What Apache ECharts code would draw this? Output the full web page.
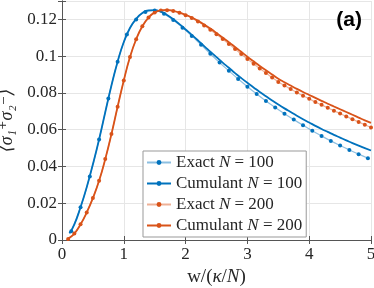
<!DOCTYPE html>
<html><head><meta charset="utf-8">
<script src="https://cdn.jsdelivr.net/npm/echarts@6/dist/echarts.min.js"></script>
<style>html,body{margin:0;padding:0;background:#fff}#c{width:374px;height:288px}</style>
</head><body><div id="c"></div>
<script>
// ---- data ----
const xExact100 = [0.15,0.30,0.45,0.60,0.75,0.90,1.05,1.20,1.35,1.50,1.65,1.80,1.95,2.10,2.25,2.40,2.55,2.70,2.85,3.00,3.15,3.30,3.45,3.60,3.75,3.90,4.05,4.20,4.35,4.50,4.65,4.80,4.95];
const yExact100 = [0.0047,0.0178,0.0346,0.0547,0.0770,0.0970,0.1118,0.1200,0.1240,0.1249,0.1230,0.1196,0.1155,0.1110,0.1062,0.1013,0.0965,0.0920,0.0876,0.0834,0.0794,0.0756,0.0721,0.0687,0.0655,0.0624,0.0594,0.0566,0.0539,0.0514,0.0490,0.0467,0.0445];

const xCum100 = [0.12,0.2,0.3,0.4,0.5,0.6,0.7,0.8,0.9,1.0,1.1,1.2,1.3,1.4,1.5,1.6,1.7,1.8,1.9,2.0,2.1,2.2,2.3,2.4,2.5,2.6,2.7,2.8,2.9,3.0,3.1,3.2,3.3,3.4,3.5,3.6,3.7,3.8,3.9,4.0,4.1,4.2,4.3,4.4,4.5,4.6,4.7,4.8,4.9,5.0];
const yCum100 = [0.0036,0.0085,0.0178,0.0287,0.0412,0.0547,0.0695,0.0840,0.0970,0.1077,0.1153,0.1203,0.1235,0.1249,0.1250,0.1242,0.1224,0.1201,0.1174,0.1145,0.1116,0.1086,0.1055,0.1025,0.0995,0.0965,0.0937,0.0908,0.0881,0.0855,0.0830,0.0805,0.0782,0.0759,0.0737,0.0716,0.0696,0.0676,0.0657,0.0639,0.0621,0.0604,0.0588,0.0572,0.0557,0.0542,0.0527,0.0513,0.0500,0.0487];

const xExact200 = [0.1,0.2,0.3,0.4,0.5,0.6,0.7,0.8,0.9,1.0,1.1,1.2,1.3,1.4,1.5,1.6,1.7,1.8,1.9,2.0,2.1,2.2,2.3,2.4,2.5,2.6,2.7,2.8,2.9,3.0,3.1,3.2,3.3,3.4,3.5,3.6,3.7,3.8,3.9,4.0,4.1,4.2,4.3,4.4,4.5,4.6,4.7,4.8,4.9,5.0];
const yExact200 = [0.0006,0.0035,0.0085,0.0150,0.0228,0.0322,0.0440,0.0576,0.0725,0.0868,0.0995,0.1092,0.1163,0.1210,0.1238,0.1249,0.1250,0.1245,0.1236,0.1223,0.1207,0.1188,0.1167,0.1144,0.1119,0.1093,0.1066,0.1039,0.1012,0.0985,0.0959,0.0933,0.0908,0.0884,0.0860,0.0840,0.0821,0.0802,0.0785,0.0768,0.0751,0.0735,0.0719,0.0703,0.0688,0.0672,0.0657,0.0642,0.0627,0.0612];

const xCum200 = [0.08,0.1,0.2,0.3,0.4,0.5,0.6,0.7,0.8,0.9,1.0,1.1,1.2,1.3,1.4,1.5,1.6,1.7,1.8,1.9,2.0,2.1,2.2,2.3,2.4,2.5,2.6,2.7,2.8,2.9,3.0,3.1,3.2,3.3,3.4,3.5,3.6,3.7,3.8,3.9,4.0,4.1,4.2,4.3,4.4,4.5,4.6,4.7,4.8,4.9,5.0];
const yCum200 = [0.0000,0.0006,0.0035,0.0085,0.0150,0.0228,0.0322,0.0440,0.0576,0.0725,0.0868,0.0995,0.1092,0.1163,0.1210,0.1238,0.1249,0.1251,0.1246,0.1237,0.1225,0.1210,0.1192,0.1172,0.1150,0.1126,0.1101,0.1076,0.1050,0.1024,0.0997,0.0972,0.0947,0.0923,0.0900,0.0877,0.0858,0.0840,0.0822,0.0805,0.0789,0.0773,0.0757,0.0741,0.0726,0.0711,0.0696,0.0681,0.0666,0.0651,0.0637];

const seriesNames = ['Exact N = 100','Cumulant N = 100','Exact N = 200','Cumulant N = 200'];
const xTicks = [0,1,2,3,4,5];
const yTicks = [0,0.02,0.04,0.06,0.08,0.1,0.12];

// ---- chart ----
const zip = (xs, ys) => xs.map((x, i) => [x, ys[i]]);
const BLUE = '#0072BD', ORANGE = '#D95319';
const SERIF = '"Liberation Serif","DejaVu Serif",serif';
const AX = '#555';
const chart = echarts.init(document.getElementById('c'), null, {renderer: 'canvas'});
const tickLabel = v => {
  const r = Math.round(v * 100) / 100;
  return yTicks.some(t => Math.abs(t - r) < 1e-9) ? String(r) : '';
};
chart.setOption({
  animation: false,
  grid: {left: 62, right: 3, top: 1, bottom: 48, containLabel: false, outerBoundsMode: 'none'},
  xAxis: [{
    type: 'value', min: 0, max: 5, interval: 1,
    axisLine: {lineStyle: {color: AX}}, axisTick: {inside: true, length: 4, lineStyle: {color: AX}},
    axisLabel: {color: '#262626', fontFamily: SERIF, fontSize: 17, margin: 6,
      formatter: v => xTicks.includes(v) ? String(v) : ''},
    splitLine: {show: true, lineStyle: {color: '#e6e6e6'}},
    name: '{n|w/(}{i|κ}{n|/}{i|N}{n|)}', nameLocation: 'middle', nameGap: 26,
    nameTextStyle: {rich: {
      n: {fontFamily: SERIF, fontSize: 19, color: '#262626'},
      i: {fontFamily: SERIF, fontSize: 19, fontStyle: 'italic', color: '#262626'}}}
  }, {
    type: 'value', min: 0, max: 5, interval: 1, position: 'top',
    axisLine: {lineStyle: {color: AX}}, axisTick: {inside: true, length: 4, lineStyle: {color: AX}},
    axisLabel: {show: false}, splitLine: {show: false}
  }],
  yAxis: [{
    type: 'value', min: 0, max: 0.13, interval: 0.02,
    axisLine: {show: true, lineStyle: {color: AX}}, axisTick: {show: true, inside: true, length: 4, lineStyle: {color: AX}},
    axisLabel: {color: '#262626', fontFamily: SERIF, fontSize: 17, margin: 5, formatter: tickLabel},
    splitLine: {show: true, lineStyle: {color: '#e6e6e6'}},
    name: '{i|⟨σ₁⁺σ₂⁻⟩}', nameLocation: 'middle', nameGap: 38, nameRotate: 90,
    nameTextStyle: {rich: {i: {fontFamily: SERIF, fontSize: 18, fontStyle: 'italic', color: '#262626'}}}
  }, {
    type: 'value', min: 0, max: 0.13, interval: 0.02, position: 'right',
    axisLine: {show: true, lineStyle: {color: AX}}, axisTick: {show: true, inside: true, length: 4, lineStyle: {color: AX}},
    axisLabel: {show: false}, splitLine: {show: false}
  }],
  legend: {
    left: 143, top: 151, orient: 'vertical',
    itemWidth: 24, itemHeight: 6, itemGap: 4,
    padding: [3, 4, 3, 3],
    backgroundColor: '#fff', borderColor: '#999', borderWidth: 1,
    data: seriesNames,
    formatter: name => name.replace(' N', ' {i|N}'),
    textStyle: {fontFamily: SERIF, fontSize: 17, color: '#262626',
      rich: {i: {fontFamily: SERIF, fontSize: 17, fontStyle: 'italic', color: '#262626'}}}
  },
  series: [
    {name: seriesNames[0], type: 'line', data: zip(xExact100, yExact100), smooth: true,
     symbol: 'circle', symbolSize: 4, showSymbol: true,
     itemStyle: {color: BLUE}, lineStyle: {color: 'rgba(0,114,189,0.45)', width: 1.2}, z: 3},
    {name: seriesNames[1], type: 'line', data: zip(xCum100, yCum100), smooth: true,
     symbol: 'none', itemStyle: {color: BLUE}, lineStyle: {color: BLUE, width: 1.8}, z: 4},
    {name: seriesNames[2], type: 'line', data: zip(xExact200, yExact200), smooth: true,
     symbol: 'circle', symbolSize: 4, showSymbol: true,
     itemStyle: {color: ORANGE}, lineStyle: {color: 'rgba(217,83,25,0.45)', width: 1.2}, z: 3},
    {name: seriesNames[3], type: 'line', data: zip(xCum200, yCum200), smooth: true,
     symbol: 'none', itemStyle: {color: ORANGE}, lineStyle: {color: ORANGE, width: 1.8}, z: 4}
  ],
  graphic: [{
    type: 'text', right: 12, top: 10, z: 10,
    style: {text: '(a)', font: 'bold 21px "Liberation Sans", Arial, sans-serif', fill: '#000'}
  }]
});
</script></body></html>
